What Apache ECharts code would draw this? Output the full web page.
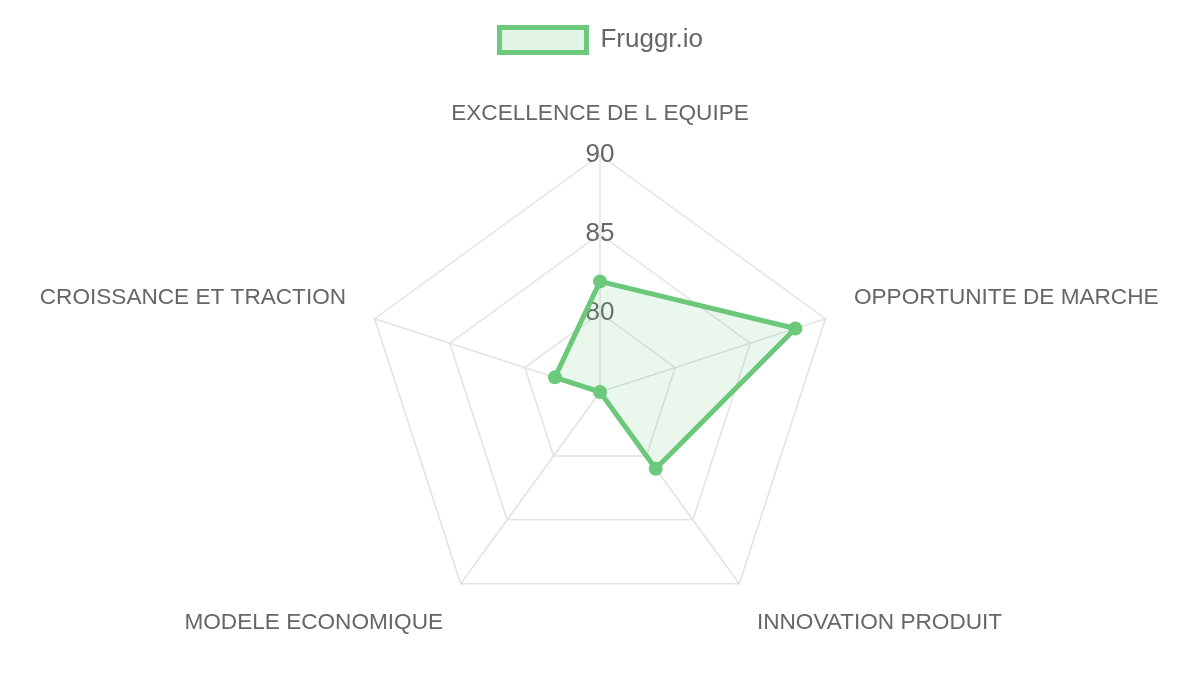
<!DOCTYPE html>
<html>
<head>
<meta charset="utf-8">
<script src="https://cdn.jsdelivr.net/npm/echarts@6/dist/echarts.min.js"></script>
<style>
  html, body { margin: 0; padding: 0; background: #fff; }
  #main { width: 1200px; height: 675px; }
</style>
</head>
<body>
<div id="main"></div>
<script>
// axes in the order they appear clockwise from the top
var categories = ['EXCELLENCE DE L EQUIPE', 'OPPORTUNITE DE MARCHE', 'INNOVATION PRODUIT', 'MODELE ECONOMIQUE', 'CROISSANCE ET TRACTION'];
var fruggrValues = [82, 88, 81, 75, 78];
var seriesName = 'Fruggr.io';
var axisMin = 75;
var axisMax = 90;

// echarts places indicators counter-clockwise, so keep the first and reverse the rest
function toEchartsOrder(arr) {
    return [arr[0]].concat(arr.slice(1).reverse());
}

var green = 'rgb(108, 200, 122)';
var greenFill = 'rgba(108, 200, 122, 0.2)';

var myChart = echarts.init(document.getElementById('main'));

var indicators = toEchartsOrder(categories).map(function (name, i) {
    return {
        name: name,
        min: axisMin,
        max: axisMax,
        axisLabel: { show: i === 0 }
    };
});

// which rich style each name uses (nudges the labels like chart.js places them)
function nameStyle(name) {
    var idx = categories.indexOf(name);
    if (idx === 0) return 'top';
    if (idx === 1 || idx === 4) return 'side';
    return 'bottom';
}

var nameFont = { fontFamily: 'Liberation Sans', fontSize: 22.6, color: '#666' };

var option = {
    animation: false,
    legend: {
        top: 20,
        left: 'center',
        data: [seriesName],
        icon: 'rect',
        itemWidth: 87,
        itemHeight: 25,
        itemStyle: { color: greenFill, borderColor: green, borderWidth: 5 },
        textStyle: { fontFamily: 'Liberation Sans', fontSize: 26, color: '#666', padding: [0, 0, 0, 9] }
    },
    radar: {
        center: ['50%', 392],
        radius: 237,
        splitNumber: 3,
        startAngle: 90,
        shape: 'polygon',
        nameGap: 30,
        indicator: indicators,
        axisName: {
            fontFamily: 'Liberation Sans',
            fontSize: 22.6,
            color: '#666',
            formatter: function (name) {
                return '{' + nameStyle(name) + '|' + name + '}';
            },
            rich: {
                top: nameFont,
                side: Object.assign({ padding: [0, 0, 24, 0] }, nameFont),
                bottom: Object.assign({ padding: [30, 0, 0, 0] }, nameFont)
            }
        },
        axisLine: { lineStyle: { color: '#e2e2e2', width: 1.5 } },
        splitLine: { lineStyle: { color: '#e2e2e2', width: 1.5 } },
        splitArea: { show: false },
        axisLabel: {
            fontFamily: 'Liberation Sans',
            fontSize: 26,
            color: '#666',
            margin: 0,
            align: 'center',
            verticalAlign: 'middle',
            padding: [4, 0, 0, 0],
            showMinLabel: false,
            formatter: function (v) { return v === axisMin ? '' : v; }
        }
    },
    series: [
        {
            name: seriesName,
            type: 'radar',
            symbol: 'circle',
            symbolSize: 14,
            lineStyle: { color: green, width: 5 },
            itemStyle: { color: green },
            areaStyle: { color: greenFill },
            data: [{ name: seriesName, value: toEchartsOrder(fruggrValues) }]
        }
    ]
};

myChart.setOption(option);
</script>
</body>
</html>
